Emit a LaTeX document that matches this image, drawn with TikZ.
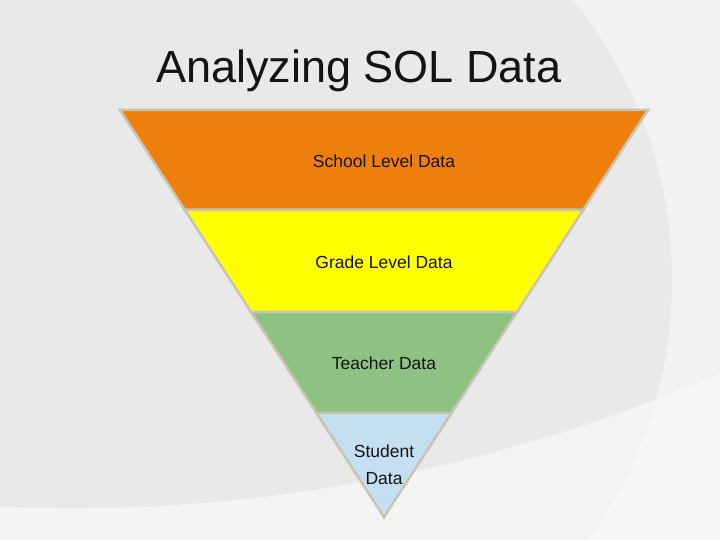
\documentclass[tikz,border=0pt]{standalone}
\usepackage{fontspec}
\setmainfont{Liberation Sans}
\definecolor{bgmain}{HTML}{E9E9E9}
\definecolor{bgout}{HTML}{F2F2F2}
\definecolor{bglow}{HTML}{F3F3F3}
\definecolor{bgcorner}{HTML}{F7F7F7}
\definecolor{lorange}{HTML}{EE7F0D}
\definecolor{lyellow}{HTML}{FFFF00}
\definecolor{lgreen}{HTML}{8EC283}
\definecolor{lblue}{HTML}{C4DFF0}
\definecolor{lborder}{HTML}{C9C3B8}
\definecolor{txt}{HTML}{141414}
\begin{document}
\begin{tikzpicture}[x=1pt,y=-1pt,
  layer/.style={draw=lborder,line width=2.5pt,line join=miter},
  lbl/.style={font=\fontsize{17.5}{27}\selectfont,text=txt,align=center,inner sep=0pt}]
\useasboundingbox (0,0) rectangle (720,540);
\clip (0,0) rectangle (720,540);
% background
\fill[bgout] (0,0) rectangle (720,540);
\fill[bgmain] (227,280) circle [radius=445];
\fill[bgcorner] (0,507) .. controls (250,518) and (500,470) .. (720,373) -- (720,540) -- (0,540) -- cycle;
\begin{scope}
  \clip (227,280) circle [radius=445];
  \fill[bglow] (0,507) .. controls (250,518) and (500,470) .. (720,373) -- (720,540) -- (0,540) -- cycle;
\end{scope}
% title
\node[anchor=base,font=\fontsize{45}{50}\selectfont,text=txt,inner sep=0pt] (title) at (359,83) {Analyzing SOL Data};
% layers
\draw[layer,fill=lorange] (120,110) -- (648,110) -- (583.1,210) -- (184.9,210) -- cycle;
\draw[layer,fill=lyellow] (184.9,210) -- (583.1,210) -- (517,312) -- (251,312) -- cycle;
\draw[layer,fill=lgreen] (251,312) -- (517,312) -- (451.5,413) -- (316.5,413) -- cycle;
\draw[layer,fill=lblue] (316.5,413) -- (451.5,413) -- (384,517) -- cycle;
% labels
\node[lbl] (school) at (384,161) {School Level Data};
\node[lbl] (grade) at (384,262) {Grade Level Data};
\node[lbl] (teacher) at (384,363) {Teacher Data};
\node[lbl] (student) at (384,465) {Student\\Data};
\end{tikzpicture}
\end{document}
